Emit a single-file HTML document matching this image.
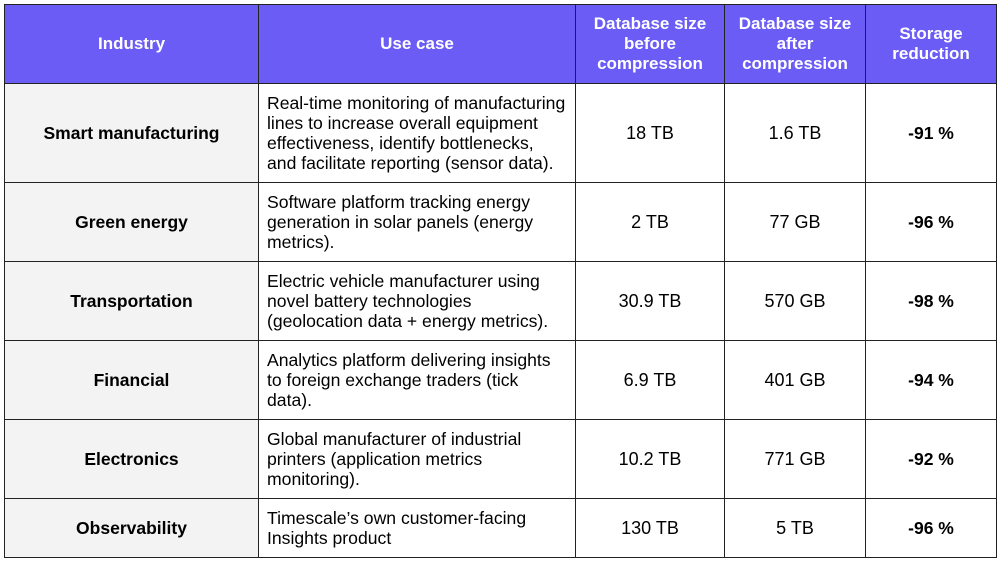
<!DOCTYPE html>
<html><head><style>
body{margin:0;width:1000px;height:561px;background:#fff;font-family:"Liberation Sans",Arial,sans-serif;position:relative;overflow:hidden}
.c{position:absolute;box-sizing:border-box;border:1px solid #222;display:flex;align-items:center;justify-content:center;text-align:center;font-size:18px;color:#000;line-height:20px}
.h{background:#6b5cf6;color:#fff;font-weight:bold;font-size:17px}
.i{background:#f3f3f3;font-weight:bold;font-size:17.5px}
.u{justify-content:flex-start;text-align:left;padding-left:8px;font-size:17.6px}
.b{font-weight:bold;font-size:17.5px}
</style></head><body>
<div id="t"></div>
<script>
const xs=[4,258,575,724,865,996];
const ys=[4,83,182,261,340,419,498,557];
const rows=[
["Industry","Use case","Database size<br>before<br>compression","Database size<br>after<br>compression","Storage<br>reduction"],
["Smart manufacturing","Real-time monitoring of manufacturing<br>lines to increase overall equipment<br>effectiveness, identify bottlenecks,<br>and facilitate reporting (sensor data).","18 TB","1.6 TB","-91 %"],
["Green energy","Software platform tracking energy<br>generation in solar panels (energy<br>metrics).","2 TB","77 GB","-96 %"],
["Transportation","Electric vehicle manufacturer using<br>novel battery technologies<br>(geolocation data + energy metrics).","30.9 TB","570 GB","-98 %"],
["Financial","Analytics platform delivering insights<br>to foreign exchange traders (tick<br>data).","6.9 TB","401 GB","-94 %"],
["Electronics","Global manufacturer of industrial<br>printers (application metrics<br>monitoring).","10.2 TB","771 GB","-92 %"],
["Observability","Timescale’s own customer-facing<br>Insights product","130 TB","5 TB","-96 %"]];
let h="";
rows.forEach((r,ri)=>r.forEach((txt,ci)=>{
let cls="c";
if(ri==0)cls+=" h";else if(ci==0)cls+=" i";else if(ci==1)cls+=" u";else if(ci==4)cls+=" b";
h+=`<div class="${cls}" style="left:${xs[ci]}px;top:${ys[ri]}px;width:${xs[ci+1]-xs[ci]+1}px;height:${ys[ri+1]-ys[ri]+1}px">${ci==1&&ri>0?'<div>'+txt+'</div>':txt}</div>`;
}));
document.getElementById("t").innerHTML=h;
</script>
</body></html>
